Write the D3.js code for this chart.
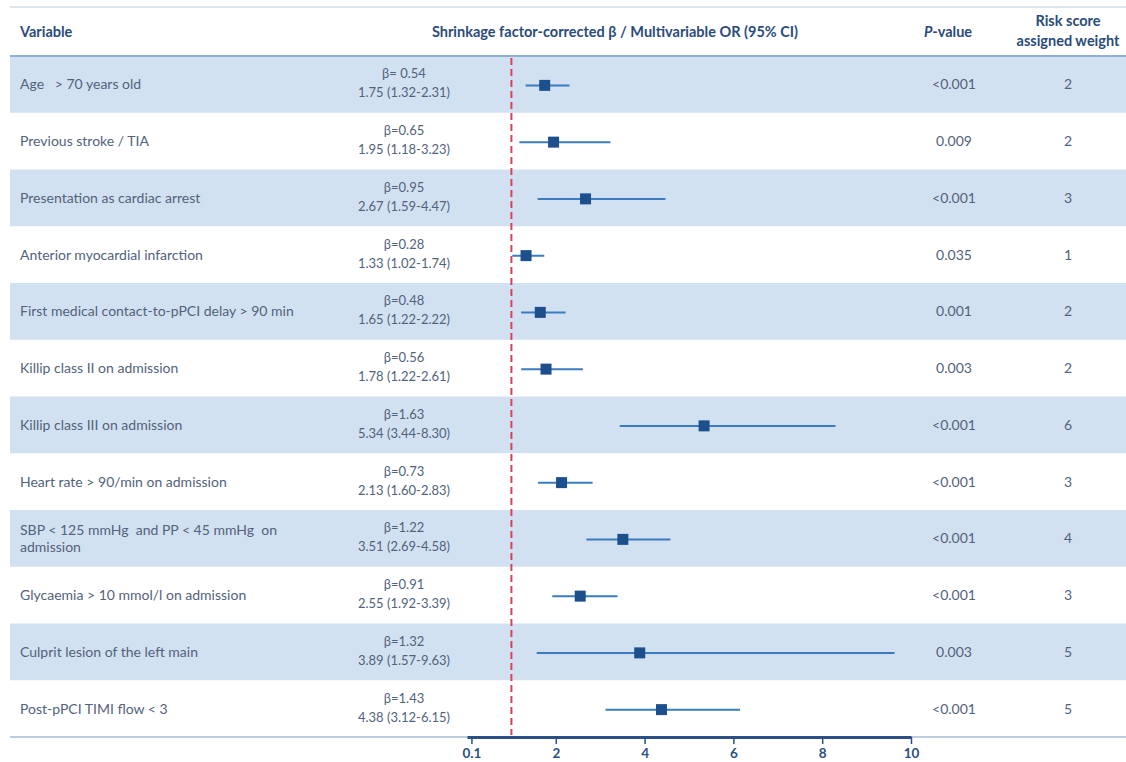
<!DOCTYPE html>
<html>
<head>
<meta charset="utf-8">
<script src="https://cdnjs.cloudflare.com/ajax/libs/d3/7.8.5/d3.min.js"></script>
<style>
  html, body { margin: 0; padding: 0; background: #ffffff; }
  svg { display: block; font-family: Lato, "Open Sans", sans-serif; }
</style>
</head>
<body>
<svg id="chart" width="1126" height="762"></svg>
<script>
// Predictors of the risk score
const variables = [
  ["Age   > 70 years old"],
  ["Previous stroke / TIA"],
  ["Presentation as cardiac arrest"],
  ["Anterior myocardial infarction"],
  ["First medical contact-to-pPCI delay > 90 min"],
  ["Killip class II on admission"],
  ["Killip class III on admission"],
  ["Heart rate > 90/min on admission"],
  ["SBP < 125 mmHg  and PP < 45 mmHg  on", "admission"],
  ["Glycaemia > 10 mmol/l on admission"],
  ["Culprit lesion of the left main"],
  ["Post-pPCI TIMI flow < 3"]
];
const betas = ["0.54", "0.65", "0.95", "0.28", "0.48", "0.56", "1.63", "0.73", "1.22", "0.91", "1.32", "1.43"];
const oddsRatios = [1.75, 1.95, 2.67, 1.33, 1.65, 1.78, 5.34, 2.13, 3.51, 2.55, 3.89, 4.38];
const ciLower = [1.32, 1.18, 1.59, 1.02, 1.22, 1.22, 3.44, 1.60, 2.69, 1.92, 1.57, 3.12];
const ciUpper = [2.31, 3.23, 4.47, 1.74, 2.22, 2.61, 8.30, 2.83, 4.58, 3.39, 9.63, 6.15];
const pValues = ["<0.001", "0.009", "<0.001", "0.035", "0.001", "0.003", "<0.001", "<0.001", "<0.001", "<0.001", "0.003", "<0.001"];
const weights = [2, 2, 3, 1, 2, 2, 6, 3, 4, 3, 5, 5];
const axisTicks = [0.1, 2, 4, 6, 8, 10];

const W = 1126, H = 762;
const svg = d3.select("#chart");

const headerTop = 7, tableTop = 56, axisY = 737;
const rowCount = variables.length;
const y = d3.scaleBand().domain(d3.range(rowCount)).range([tableTop, axisY]).paddingInner(0);
const x = d3.scaleLinear().domain([0, 10]).range([467, 911]);

const colVar = 20, colOR = 404, colP = 954, colW = 1068;
const textColor = "#52627c";
const headColor = "#2b4b7c";

// alternating row bands
svg.append("g").selectAll("rect")
  .data(d3.range(rowCount).filter(i => i % 2 === 0))
  .join("rect")
  .attr("x", 10).attr("width", W - 10)
  .attr("y", i => y(i)).attr("height", y.bandwidth())
  .attr("fill", "#d2e1f1");

// rules
svg.append("line").attr("x1", 10).attr("x2", W).attr("y1", headerTop).attr("y2", headerTop)
  .attr("stroke", "#dde4ec").attr("stroke-width", 2);
svg.append("line").attr("x1", 10).attr("x2", W).attr("y1", tableTop).attr("y2", tableTop)
  .attr("stroke", "#8fb0d3").attr("stroke-width", 2);
svg.append("line").attr("x1", 10).attr("x2", W).attr("y1", axisY).attr("y2", axisY)
  .attr("stroke", "#a7bcd5").attr("stroke-width", 1.5);

// header
const head = svg.append("g").attr("font-weight", 700).attr("font-size", 14.5).attr("fill", headColor);
head.append("text").attr("x", colVar).attr("y", 37).text("Variable");
head.append("text").attr("x", 615).attr("y", 37).attr("text-anchor", "middle")
  .text("Shrinkage factor-corrected β / Multivariable OR (95% CI)");
const pHead = head.append("text").attr("x", 948).attr("y", 37).attr("text-anchor", "middle");
pHead.append("tspan").attr("font-style", "italic").text("P");
pHead.append("tspan").text("-value");
head.append("text").attr("x", colW).attr("y", 26).attr("text-anchor", "middle").text("Risk score");
head.append("text").attr("x", colW).attr("y", 46).attr("text-anchor", "middle").text("assigned weight");

// reference line at OR = 1
svg.append("line")
  .attr("x1", x(1)).attr("x2", x(1))
  .attr("y1", tableTop + 2).attr("y2", axisY - 2)
  .attr("stroke", "#d8435a").attr("stroke-width", 2)
  .attr("stroke-dasharray", "7,4");

const rows = svg.append("g").selectAll("g")
  .data(d3.range(rowCount))
  .join("g")
  .attr("transform", i => `translate(0,${y(i) + y.bandwidth() / 2})`);

// variable names
rows.append("text")
  .attr("x", colVar)
  .attr("font-size", 14).attr("fill", textColor)
  .each(function (i) {
    const lines = variables[i];
    const t = d3.select(this);
    lines.forEach((ln, k) => {
      t.append("tspan").attr("x", colVar)
        .attr("y", lines.length === 1 ? 5 : -3 + k * 17)
        .attr("xml:space", "preserve")
        .style("white-space", "pre")
        .text(ln);
    });
  });

// beta and OR (95% CI)
rows.append("text").attr("x", colOR).attr("y", -6).attr("text-anchor", "middle")
  .attr("font-size", 13).attr("fill", textColor)
  .text(i => i === 0 ? "β= " + betas[i] : "β=" + betas[i]);
rows.append("text").attr("x", colOR).attr("y", 13).attr("text-anchor", "middle")
  .attr("font-size", 13).attr("fill", textColor)
  .text(i => `${oddsRatios[i].toFixed(2)} (${ciLower[i].toFixed(2)}-${ciUpper[i].toFixed(2)})`);

// confidence intervals
rows.append("line")
  .attr("x1", i => x(ciLower[i])).attr("x2", i => x(ciUpper[i]))
  .attr("y1", 1).attr("y2", 1)
  .attr("stroke", "#3b7bbf").attr("stroke-width", 2);

// point estimates
const sq = 11;
rows.append("rect")
  .attr("x", i => x(oddsRatios[i]) - sq / 2).attr("y", 1 - sq / 2)
  .attr("width", sq).attr("height", sq)
  .attr("fill", "#1d4f8c");

// p-values and weights
rows.append("text").attr("x", colP).attr("y", 5).attr("text-anchor", "middle")
  .attr("font-size", 14).attr("fill", textColor).text(i => pValues[i]);
rows.append("text").attr("x", colW).attr("y", 5).attr("text-anchor", "middle")
  .attr("font-size", 14).attr("fill", textColor).text(i => weights[i]);

// OR axis
const axis = d3.axisBottom(x)
  .tickValues(axisTicks)
  .tickFormat(d => d === 0.1 ? "0.1" : d3.format("d")(d))
  .tickSize(7).tickSizeOuter(0).tickPadding(4);
const ax = svg.append("g").attr("transform", `translate(0,${axisY})`).call(axis);
ax.select(".domain").attr("stroke", "#2c4f86").attr("stroke-width", 3);
ax.selectAll(".tick line").attr("stroke", "#2c4f86").attr("stroke-width", 1.5);
ax.selectAll(".tick text").attr("fill", "#2c4f86").attr("font-size", 13.5).attr("font-weight", 700)
  .attr("font-family", "Lato, sans-serif");
</script>
</body>
</html>
